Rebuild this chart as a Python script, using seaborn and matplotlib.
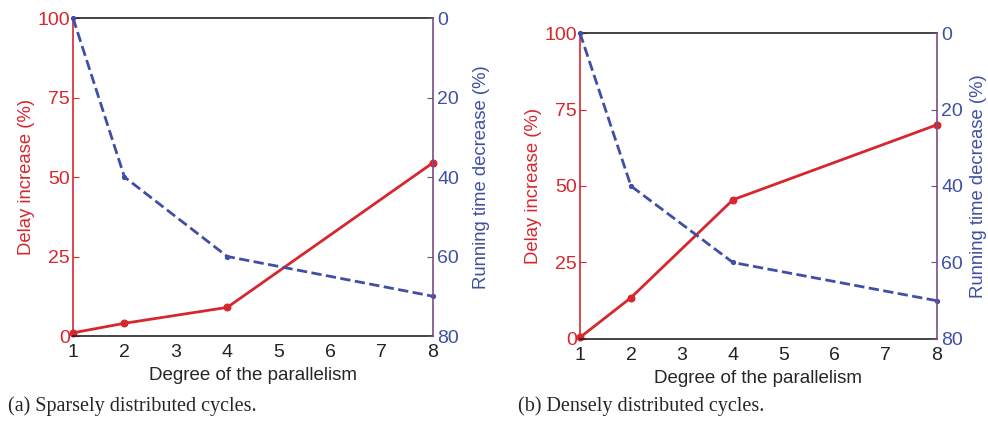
import pandas as pd
import matplotlib
matplotlib.use('Agg')
import matplotlib.pyplot as plt
import seaborn as sns

# Data
degree = [1, 2, 4, 8]
delay_sparse = [1, 4, 9, 54.5]
runtime_sparse = [0, 40, 60, 70]
delay_dense = [0.5, 13.5, 45.5, 70]
runtime_dense = [0, 40, 60, 70]
captions = ['(a) Sparsely distributed cycles.', '(b) Densely distributed cycles.']

sns.set_style('white')
plt.rcParams['font.family'] = ['Liberation Sans', 'DejaVu Sans']

RED = '#d7262e'
BLUE = '#3f4fa6'
PURPLE = '#7a4c86'

fig = plt.figure(figsize=(9.88, 4.21), dpi=100)
boxes = [[0.0739, 0.2019, 0.3644, 0.7553], [0.587, 0.1948, 0.3613, 0.7268]]
panels = [(delay_sparse, runtime_sparse), (delay_dense, runtime_dense)]
cap_x = [0.008, 0.524]
right_pad = [10, 5]

for box, (delay, runtime), cap, cx, rp in zip(boxes, panels, captions, cap_x, right_pad):
    df = pd.DataFrame({'degree': degree, 'delay': delay, 'runtime': runtime})
    ax = fig.add_axes(box)
    sns.lineplot(data=df, x='degree', y='delay', ax=ax, color=RED, lw=2,
                 marker='o', markersize=5, markeredgecolor=RED, clip_on=False)
    ax.set_xlim(1, 8)
    ax.set_ylim(0, 100)
    ax.set_xticks(range(1, 9))
    ax.set_yticks([0, 25, 50, 75, 100])
    ax.set_xlabel('Degree of the parallelism', fontsize=13.5, labelpad=4)
    ax.set_ylabel('Delay increase (%)', fontsize=13.3, color=RED, labelpad=2)
    ax.tick_params(axis='x', direction='in', length=4, labelsize=14, pad=6, colors='#222222')
    ax.tick_params(axis='y', direction='in', length=4, labelsize=14, pad=2, colors=RED)
    for s in ['top', 'bottom']:
        ax.spines[s].set_color('#222222')
        ax.spines[s].set_linewidth(1.2)
    ax.spines['left'].set_color(RED)
    ax.spines['left'].set_linewidth(1.2)
    ax.spines['right'].set_visible(False)

    ax2 = ax.twinx()
    sns.lineplot(data=df, x='degree', y='runtime', ax=ax2, color=BLUE, lw=2,
                 linestyle='--', dashes=(3, 1.8), marker='o', markersize=3,
                 markeredgecolor=BLUE, clip_on=False)
    ax2.set_ylim(80, 0)
    ax2.set_yticks([0, 20, 40, 60, 80])
    ax2.set_ylabel('Running time decrease (%)', fontsize=13.3, color=BLUE, labelpad=rp)
    ax2.tick_params(axis='y', direction='in', length=4, labelsize=14, pad=3,
                    colors=BLUE)
    ax2.tick_params(axis='y', color=PURPLE)
    for s in ['top', 'bottom', 'left']:
        ax2.spines[s].set_visible(False)
    ax2.spines['right'].set_color(PURPLE)
    ax2.spines['right'].set_linewidth(1.2)

    fig.text(cx, 0.035, cap, fontsize=14.5, va='center',
             family=['Liberation Serif', 'DejaVu Serif'])

plt.savefig('out.png', dpi=100)
